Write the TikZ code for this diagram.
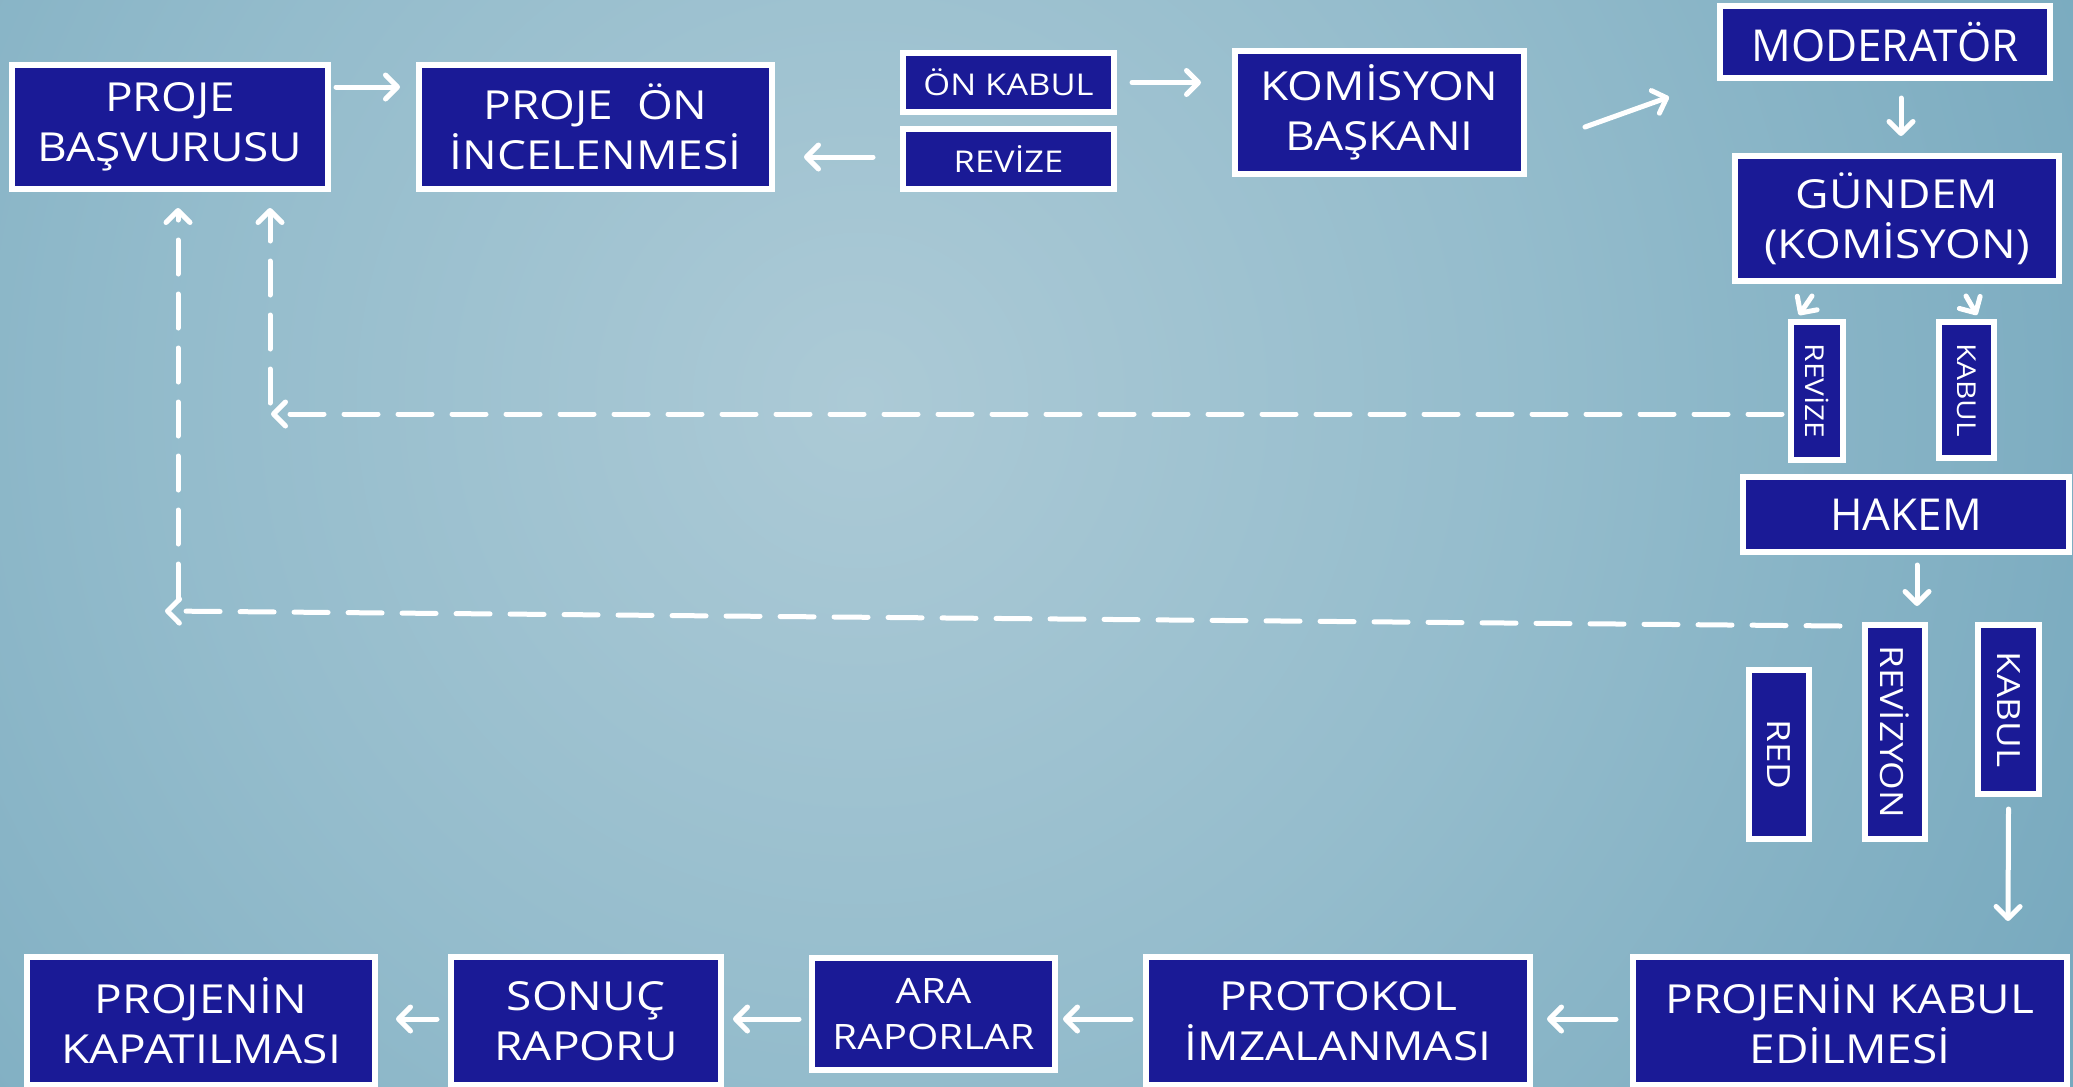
\documentclass[tikz,border=0pt]{standalone}
\usepackage{fontspec}
\usepackage{graphicx}
\setmainfont{Open Sans}
\newfontfamily\widefont{Open Sans}[FakeStretch=1.15]
\usetikzlibrary{arrows.meta,shadows,calc}
\definecolor{boxblue}{RGB}{26,26,150}
\definecolor{bgA}{RGB}{172,202,214}
\definecolor{bgB}{RGB}{148,188,204}
\definecolor{bgC}{RGB}{74,139,168}
\pgfdeclareradialshading{bgshade}{\pgfpoint{0bp}{0bp}}{color(0bp)=(bgA); color(12bp)=(bgB); color(44bp)=(bgC); color(50bp)=(bgC)}
\begin{document}
\begin{tikzpicture}[x=0.5pt,y=-0.5pt,
  box/.style={draw=white, line width=3pt, fill=boxblue, inner sep=0pt, text=white, align=center,
    drop shadow={shadow xshift=1.5pt, shadow yshift=-1.5pt, opacity=0.35, fill=black}},
  sz/.style 2 args={minimum width=#1pt, minimum height=#2pt},
  fbig/.style={font=\widefont\fontsize{20}{25}\selectfont},
  flarge/.style={font=\fontsize{22}{26}\selectfont},
  fsmall/.style={font=\widefont\fontsize{15}{18}\selectfont},
  fmed/.style={font=\widefont\fontsize{17.5}{23}\selectfont},
  fvs/.style={font=\widefont\fontsize{13}{15}\selectfont},
  fvm/.style={font=\widefont\fontsize{16}{19}\selectfont},
  arr/.style={draw=white, line width=2.5pt, line cap=round, line join=round,
    -{Straight Barb[round, length=6pt, width=12pt]}},
  darr/.style={arr, dash pattern=on 17pt off 10pt},
]
\useasboundingbox (0,0) rectangle (2073,1087);
\begin{scope}
\clip (0,0) rectangle (2073,1087);
\shade[shading=bgshade] (-540,-1000) rectangle (2260,1800);
\end{scope}

% top row
\node[box,fbig,sz={158}{62}] (basv) at (170,127) {PROJE\\BAŞVURUSU};
\node[box,fbig,sz={176.5}{62}] (onin) at (595.5,127) {PROJE\ \ ÖN\\İNCELENMESİ};
\node[box,fsmall,sz={105.5}{29.5}] (onkabul) at (1008.5,82.5) {ÖN KABUL};
\node[box,fsmall,sz={105.5}{30}] (revize) at (1008.5,159) {REVİZE};
\node[box,fbig,sz={144.5}{61.5}] (komisyon) at (1379.5,112.5) {KOMİSYON\\BAŞKANI};
\node[box,flarge,sz={165}{36}] (moderator) at (1885,42) {MODERATÖR};
\node[box,fbig,sz={162}{62.5}] (gundem) at (1897,218.5) {GÜNDEM\\(KOMİSYON)};
\node[box,fvs,sz={26}{69}] (rev2) at (1817,391) {\rotatebox{-90}{REVİZE}};
\node[box,fvs,sz={27.5}{68}] (kab1) at (1966.5,390) {\rotatebox{-90}{KABUL}};
\node[box,flarge,sz={163}{37.5}] (hakem) at (1906,514.5) {HAKEM};
\node[box,fvm,sz={30}{84.5}] (red) at (1779,754.5) {\rotatebox{-90}{RED}};
\node[box,fvm,sz={30}{107}] (revizyon) at (1895,732) {\rotatebox{-90}{REVİZYON}};
\node[box,fvm,sz={30.5}{84.5}] (kab2) at (2008.5,709.5) {\rotatebox{-90}{KABUL}};

% bottom row
\node[box,fbig,sz={174}{64}] (kapat) at (201,1021) {PROJENİN\\KAPATILMASI};
\node[box,fbig,sz={135}{64}] (sonuc) at (586,1021) {SONUÇ\\RAPORU};
\node[box,fmed,sz={121.5}{56}] (ara) at (933.5,1014) {ARA\\RAPORLAR};
\node[box,fbig,sz={192}{64}] (protokol) at (1338,1021) {PROTOKOL\\İMZALANMASI};
\node[box,fbig,sz={217}{64}] (kabuledil) at (1850,1021) {PROJENİN KABUL\\EDİLMESİ};

% solid arrows
\draw[arr] ($(basv.east)+(5,-40)$) -- ($(onin.west)+(-16,-40)$);
\draw[arr] ($(revize.west)+(-27,-2)$) -- ($(onin.east)+(29,30)$);
\draw[arr] ($(onkabul.east)+(15,0)$) -- ($(komisyon.west)+(-31,-30)$);
\draw[arr] ($(komisyon.east)+(58,14.5)$) -- ($(moderator.west)+(-48,55)$);
\draw[arr] ($(moderator.south)+(16,17)$) -- ($(gundem.north)+(4,-17)$);
\draw[arr] ($(gundem.south)+(-85,12)$) -- ($(rev2.north)+(-18,-4)$);
\draw[arr] ($(gundem.south)+(69,12)$) -- ($(kab1.north)+(10.5,-4)$);
\draw[arr] ($(hakem.south)+(11,10)$) -- ($(revizyon.north)+(22,-16)$);
\draw[arr] ($(kab2.south)+(0,12)$) -- ($(kabuledil.north)+(158,-33)$);
\draw[arr] ($(kabuledil.west)+(-14,-2)$) -- ($(protokol.east)+(14,-2)$);
\draw[arr] ($(protokol.west)+(-12,-2)$) -- ($(ara.east)+(5,5)$);
\draw[arr] ($(ara.west)+(-10,5)$) -- ($(sonuc.east)+(9,-2)$);
\draw[arr] ($(sonuc.west)+(-11,-2)$) -- ($(kapat.east)+(18,-2)$);

% dashed return arrows
\coordinate (d1) at (271,414);
\coordinate (d1v) at (270,403);
\draw[darr] ($(rev2.west)+(-6,23)$) -- (d1);
\draw[darr] (d1v) -- ($(basv.south)+(100,16)$);
\coordinate (d2) at (165,611);
\coordinate (d2v) at (178,598);
\draw[darr] ($(revizyon.west)+(-22,-106)$) -- (d2);
\draw[darr] (d2v) -- ($(basv.south)+(8,16)$);
\end{tikzpicture}
\end{document}
